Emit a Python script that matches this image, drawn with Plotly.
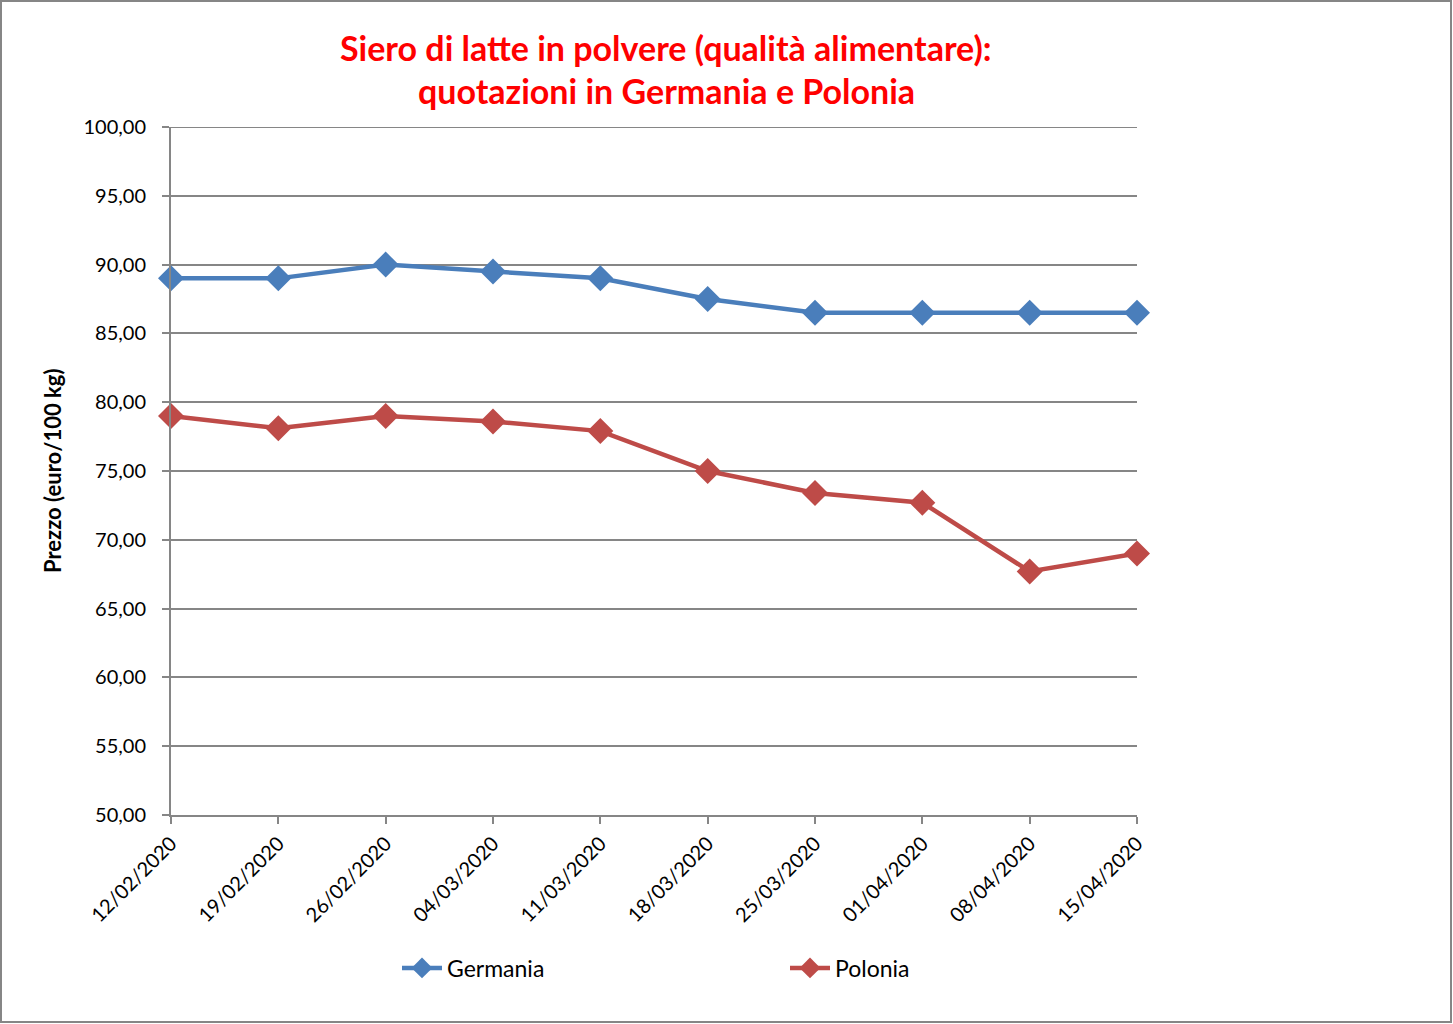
import plotly.graph_objects as go

dates = ["12/02/2020", "19/02/2020", "26/02/2020", "04/03/2020", "11/03/2020",
         "18/03/2020", "25/03/2020", "01/04/2020", "08/04/2020", "15/04/2020"]
germania = [89.0, 89.0, 90.0, 89.5, 89.0, 87.5, 86.5, 86.5, 86.5, 86.5]
polonia = [79.0, 78.1, 79.0, 78.6, 77.9, 75.0, 73.4, 72.7, 67.7, 69.0]
y_ticks = [50, 55, 60, 65, 70, 75, 80, 85, 90, 95, 100]
title_lines = ["Siero di latte in polvere (qualità alimentare):",
               "quotazioni in Germania e Polonia"]

FONT = "Lato, 'Open Sans', sans-serif"
L, R, T, B = 171, 1137, 127, 815
PW, PH = R - L, B - T

def px_x(px):
    return (px - L) / PW

def px_y(py):
    return (B - py) / PH

fig = go.Figure()
fig.add_trace(go.Scatter(x=list(range(len(dates))), y=germania, name="Germania",
                         mode="lines+markers", cliponaxis=False,
                         line=dict(color="#4A7EBB", width=4.5),
                         marker=dict(symbol="diamond", size=20, color="#4A7EBB")))
fig.add_trace(go.Scatter(x=list(range(len(dates))), y=polonia, name="Polonia",
                         mode="lines+markers", cliponaxis=False,
                         line=dict(color="#BE4B48", width=4.5),
                         marker=dict(symbol="diamond", size=20, color="#BE4B48")))

fig.update_layout(
    width=1453, height=1024,
    margin=dict(l=L, r=1453 - R, t=T, b=1024 - B),
    paper_bgcolor="white", plot_bgcolor="white",
    separators=",.",
    font=dict(family=FONT, size=20, color="black"),
    showlegend=True,
    legend=dict(orientation="h", x=px_x(397), xanchor="left", y=px_y(968), yanchor="middle",
                yref="paper", entrywidth=333, entrywidthmode="pixels",
                font=dict(family=FONT, size=23, color="black"), itemwidth=40),
    xaxis=dict(range=[0, 9], tickmode="array", tickvals=list(range(len(dates))),
               ticktext=dates, tickangle=-45, showgrid=False,
               showline=True, linecolor="#868686", linewidth=2,
               ticks="outside", ticklen=7, tickcolor="#868686", tickwidth=2,
               tickfont=dict(family=FONT, size=20, color="black"),
               zeroline=False),
    yaxis=dict(range=[50, 100], tickmode="array", tickvals=y_ticks, tickformat=".2f",
               showgrid=True, gridcolor="#868686", gridwidth=2,
               showline=True, linecolor="#868686", linewidth=2,
               ticks="outside", ticklen=7, tickcolor="#868686", tickwidth=2,
               ticklabelstandoff=12,
               tickfont=dict(family=FONT, size=20, color="black"),
               zeroline=False),
)

# top gridline (plotly skips gridlines on the plot edge)
fig.add_shape(type="line", xref="paper", yref="y", x0=0, x1=1,
              y0=y_ticks[-1], y1=y_ticks[-1],
              line=dict(color="#868686", width=2), layer="below")

for line, cy in zip(title_lines, [47, 91]):
    fig.add_annotation(text="<b>" + line + "</b>", xref="paper", yref="paper",
                       x=px_x(666), y=px_y(cy), xanchor="center", yanchor="middle",
                       showarrow=False,
                       font=dict(family=FONT, size=34, color="#FF0000"))

fig.add_annotation(text="<b>Prezzo (euro/100 kg)</b>", textangle=-90,
                   xref="paper", yref="paper", x=px_x(52), y=px_y(471),
                   xanchor="center", yanchor="middle", showarrow=False,
                   font=dict(family=FONT, size=22, color="black"))

fig.add_shape(type="rect", xref="paper", yref="paper",
              x0=px_x(1), x1=px_x(1451), y0=px_y(1022), y1=px_y(1),
              line=dict(color="#868686", width=2), fillcolor="rgba(0,0,0,0)", layer="below")

fig.write_html("out.html", config={"displayModeBar": False},
               post_script="document.body.style.margin='0';")
